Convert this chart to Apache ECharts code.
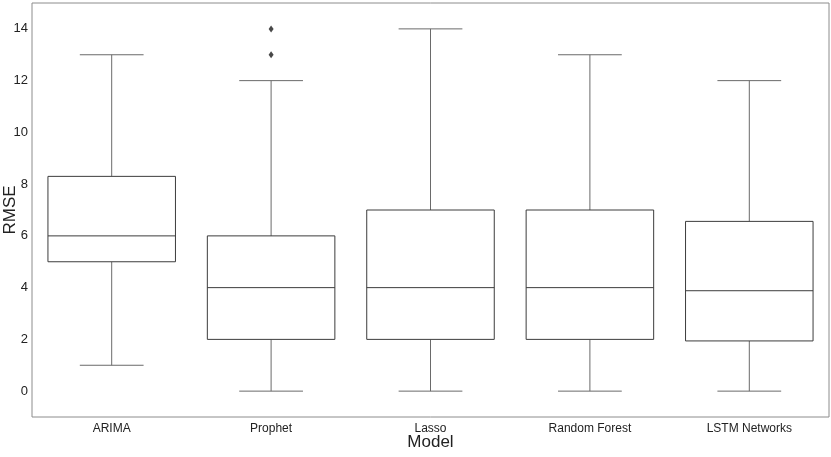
<!DOCTYPE html>
<html>
<head>
<meta charset="utf-8">
<script src="https://cdn.jsdelivr.net/npm/echarts@6/dist/echarts.min.js"></script>
<style>
	html, body { margin: 0; padding: 0; background: #fff; }
	#chart { width: 831px; height: 457px; }
</style>
</head>
<body>
<div id="chart"></div>
<script>
	const models = ['ARIMA', 'Prophet', 'Lasso', 'Random Forest', 'LSTM Networks']
	// [min, Q1, median, Q3, max]
	const boxStats = [
		[1, 5, 6, 8.3, 13],
		[0, 2, 4, 6, 12],
		[0, 2, 4, 7, 14],
		[0, 2, 4, 7, 13],
		[0, 1.94, 3.88, 6.56, 12]
	]
	// [category index, value]
	const outliers = [
		[1, 13],
		[1, 14]
	]
	const yTicks = [0, 2, 4, 6, 8, 10, 12, 14]

	const fontFamily = '"Liberation Sans Narrow", "Liberation Sans", Arial, sans-serif'

	const chart = echarts.init(document.getElementById('chart'))

	const renderBox = (params, api) => {
		const idx = api.value(0)
		const s = boxStats[idx]
		const bandW = api.size([1, 0])[0]
		const half = bandW * 0.4
		const capHalf = bandW * 0.2
		const cx = api.coord([idx, 0])[0]
		const y = s.map((v) => api.coord([idx, v])[1])
		const boxStyle = { stroke: '#3c3c3c', fill: '#fff', lineWidth: 1 }
		const lineStyle = { stroke: '#3c3c3c', lineWidth: 1 }
		const whiskStyle = { stroke: '#6a6a6a', lineWidth: 1 }
		return {
			type: 'group',
			children: [
				{ type: 'line', shape: { x1: cx, y1: y[3], x2: cx, y2: y[4] }, style: whiskStyle },
				{ type: 'line', shape: { x1: cx, y1: y[0], x2: cx, y2: y[1] }, style: whiskStyle },
				{ type: 'line', shape: { x1: cx - capHalf, y1: y[4], x2: cx + capHalf, y2: y[4] }, style: whiskStyle },
				{ type: 'line', shape: { x1: cx - capHalf, y1: y[0], x2: cx + capHalf, y2: y[0] }, style: whiskStyle },
				{ type: 'rect', shape: { x: cx - half, y: y[3], width: half * 2, height: y[1] - y[3] }, style: boxStyle },
				{ type: 'line', shape: { x1: cx - half, y1: y[2], x2: cx + half, y2: y[2] }, style: lineStyle }
			]
		}
	}

	const option = {
		animation: false,
		grid: {
			left: 32,
			right: 2,
			top: 3,
			bottom: 40,
			containLabel: false,
			outerBoundsMode: 'none',
			show: true,
			borderColor: '#8c8c8c',
			borderWidth: 1
		},
		xAxis: {
			type: 'category',
			data: models,
			name: 'Model',
			nameLocation: 'middle',
			nameGap: 17,
			nameMoveOverlap: false,
			nameTextStyle: { fontFamily, fontSize: 17, color: '#222' },
			axisLine: { show: false },
			axisTick: { show: false },
			axisLabel: { fontFamily, fontSize: 12, color: '#222', margin: 6 },
			splitLine: { show: false }
		},
		yAxis: {
			type: 'value',
			min: -1,
			max: 15,
			interval: 1,
			name: 'RMSE',
			nameLocation: 'middle',
			nameGap: 13,
			nameMoveOverlap: false,
			nameTextStyle: { fontFamily, fontSize: 17, color: '#222' },
			axisLine: { show: false },
			axisTick: { show: false },
			splitLine: { show: false },
			axisLabel: {
				fontFamily,
				fontSize: 13,
				color: '#222',
				margin: 4,
				formatter: (v) => (yTicks.includes(v) ? String(v) : '')
			}
		},
		series: [
			{
				type: 'custom',
				renderItem: renderBox,
				data: models.map((m, i) => [i]),
				encode: { x: 0 },
				silent: true
			},
			{
				type: 'scatter',
				data: outliers,
				symbol: 'diamond',
				symbolSize: [5, 7],
				itemStyle: { color: '#1a1a1a' },
				silent: true
			}
		]
	}

	chart.setOption(option)
	window.onresize = () => {
		chart.resize()
	}
</script>
</body>
</html>
